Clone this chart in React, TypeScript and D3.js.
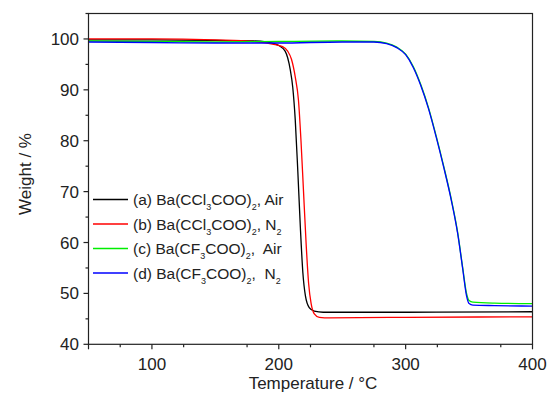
import React from "react";
import * as d3 from "d3";

const xTicks = [100, 200, 300, 400];
const yTicks = [40, 50, 60, 70, 80, 90, 100];

const tempA = [50, 100, 150, 180, 190, 196, 200, 205, 209, 211, 213, 215, 217, 219, 221, 224, 228, 235, 300, 400];
const wA = [99.8, 99.8, 99.7, 99.6, 99.4, 99.1, 98.7, 97.6, 94, 90.5, 84, 74, 63, 54, 49.5, 47.2, 46.5, 46.3, 46.3, 46.4];

const tempB = [50, 100, 150, 180, 195, 203, 207, 210, 213, 215.5, 217.5, 219.5, 221.5, 223.5, 225.5, 228, 232, 240, 300, 400];
const wB = [100, 100, 99.8, 99.5, 99.0, 98.5, 97.6, 96, 92.5, 88, 80, 70, 60, 52, 48, 46, 45.3, 45.2, 45.3, 45.4];

const tempC = [50, 100, 150, 200, 250, 275, 285, 293, 300, 306, 312, 318, 324, 330, 336, 341, 345, 348, 350, 353, 370, 400];
const wC = [99.6, 99.5, 99.4, 99.5, 99.6, 99.5, 99.2, 98.4, 97, 94.6, 91, 86.5, 81, 75, 68.5, 62, 55, 50, 48.6, 48.3, 48.1, 48.0];

const tempD = [50, 100, 150, 200, 250, 275, 285, 293, 300, 306, 312, 318, 324, 330, 336, 341, 345, 348, 350, 353, 370, 400];
const wD = [99.4, 99.3, 99.2, 99.2, 99.4, 99.4, 99.1, 98.3, 96.9, 94.4, 90.8, 86.3, 80.8, 74.8, 68.3, 61.8, 54.8, 49.5, 48.0, 47.7, 47.6, 47.5];

const seriesColors = ["#000000", "#ff0000", "#00ee00", "#0000ff"];
const legendMain = ["(a) Ba(CCl", "(b) Ba(CCl", "(c) Ba(CF", "(d) Ba(CF"];

const W = 550, H = 403;
const m = { left: 88.5, right: 532.5, top: 13.5, bottom: 344.3 };
const font = "Arial, 'Liberation Sans', sans-serif";

export default function App() {
  const x = d3.scaleLinear().domain([50, 400]).range([m.left, m.right]);
  const y = d3.scaleLinear().domain([40, 105]).range([m.bottom, m.top]);
  const line = d3
    .line<[number, number]>()
    .x((d) => x(d[0]))
    .y((d) => y(d[1]))
    .curve(d3.curveMonotoneX);
  const series = [
    [tempA, wA],
    [tempB, wB],
    [tempC, wC],
    [tempD, wD],
  ].map(([t, w]) => t.map((v, i) => [v, w[i]] as [number, number]));
  const order = [0, 1, 2, 3];
  const xMinor = d3.range(75, 400, 50);
  const yMinor = d3.range(45, 106, 10);
  const legY = [199.5, 224, 248.5, 273];

  const legendText = (i: number) => {
    const tail = i === 0 ? ", Air" : i === 1 ? ", N" : i === 2 ? ",  Air" : ",  N";
    return (
      <>
        {legendMain[i]}
        <tspan dy={5} fontSize={9}>3</tspan>
        <tspan dy={-5}>COO)</tspan>
        <tspan dy={5} fontSize={9}>2</tspan>
        <tspan dy={-5} style={{ whiteSpace: "pre" }}>{tail}</tspan>
        {(i === 1 || i === 3) && <tspan dy={5} fontSize={9}>2</tspan>}
      </>
    );
  };

  return (
    <svg width={W} height={H} style={{ position: "absolute", left: 0, top: 0 }} fontFamily={font}>
      <rect width={W} height={H} fill="#fff" />
      {order.map((i) => (
        <path key={i} d={line(series[i]) || ""} fill="none" stroke={seriesColors[i]} strokeWidth={1.3} />
      ))}
      <rect x={m.left} y={m.top} width={m.right - m.left} height={m.bottom - m.top} fill="none" stroke="#222" strokeWidth={1.2} />
      {xTicks.concat([50]).map((t) => (
        <line key={"xt" + t} x1={x(t)} x2={x(t)} y1={m.bottom} y2={m.bottom + 5} stroke="#222" strokeWidth={1.2} />
      ))}
      {xMinor.map((t) => (
        <line key={"xm" + t} x1={x(t)} x2={x(t)} y1={m.bottom} y2={m.bottom + 3} stroke="#222" strokeWidth={1.2} />
      ))}
      {yTicks.map((t) => (
        <line key={"yt" + t} x1={m.left - 5} x2={m.left} y1={y(t)} y2={y(t)} stroke="#222" strokeWidth={1.2} />
      ))}
      {yMinor.map((t) => (
        <line key={"ym" + t} x1={m.left - 3} x2={m.left} y1={y(t)} y2={y(t)} stroke="#222" strokeWidth={1.2} />
      ))}
      {xTicks.map((t) => (
        <text key={"xl" + t} x={x(t)} y={369.5} fontSize={17} textAnchor="middle" fill="#222">
          {t}
        </text>
      ))}
      {yTicks.map((t) => (
        <text key={"yl" + t} x={79} y={y(t) + 6} fontSize={17} textAnchor="end" fill="#222">
          {t}
        </text>
      ))}
      <text x={313} y={389} fontSize={17} textAnchor="middle" fill="#222">
        Temperature / °C
      </text>
      <text transform={`translate(31,174) rotate(-90)`} fontSize={17} textAnchor="middle" fill="#222">
        Weight / %
      </text>
      {order.map((i) => (
        <g key={"lg" + i}>
          <line x1={93} x2={128} y1={legY[i]} y2={legY[i]} stroke={seriesColors[i]} strokeWidth={1.3} />
          <text x={133} y={legY[i] + 5.5} fontSize={15.5} fill="#222" style={{ whiteSpace: "pre" }}>
            {legendText(i)}
          </text>
        </g>
      ))}
    </svg>
  );
}
